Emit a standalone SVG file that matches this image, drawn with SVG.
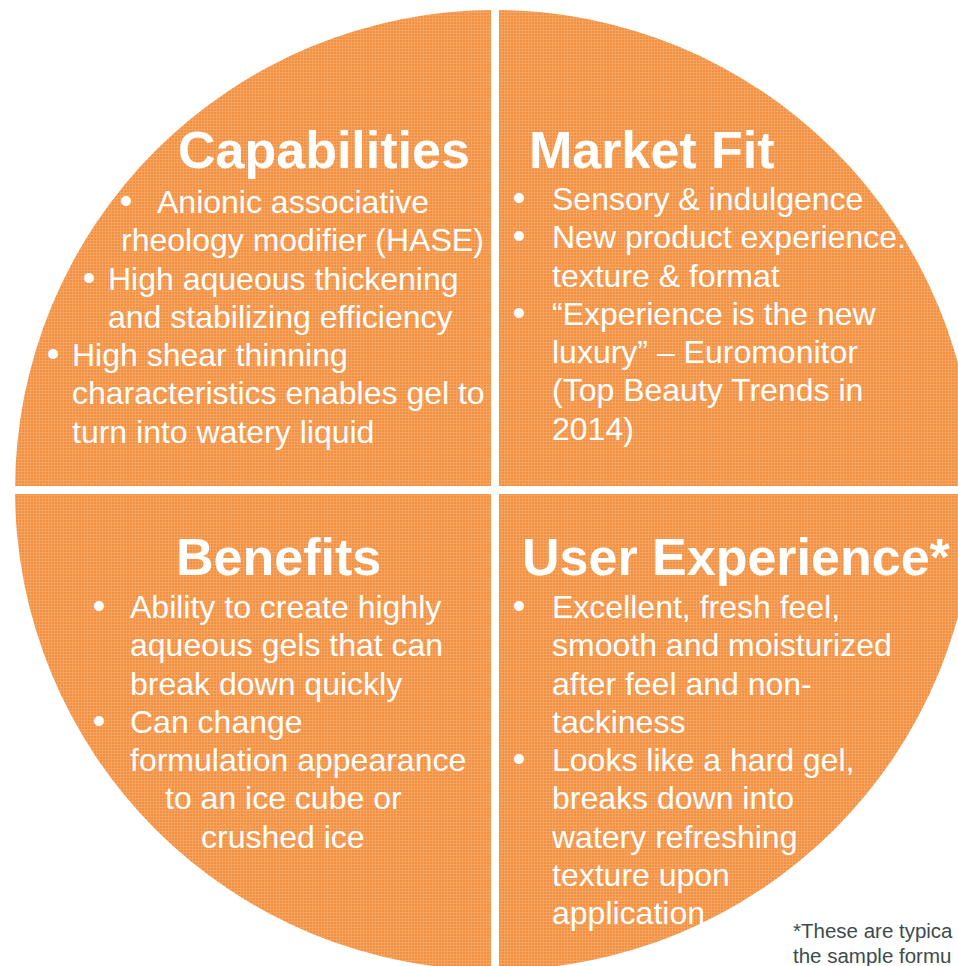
<svg xmlns="http://www.w3.org/2000/svg" width="958" height="966" viewBox="0 0 958 966">
<defs>
<pattern id="tex" width="3" height="3" patternUnits="userSpaceOnUse">
<rect width="3" height="3" fill="#F29040"/>
<rect x="0" y="0" width="3" height="1" fill="#F5A462"/>
<rect x="0" y="0" width="1" height="3" fill="#F5A462"/>
</pattern>
</defs>
<style>
.t{font-family:"Liberation Sans",Arial,sans-serif;fill:#ffffff;}
.h{font-size:52px;font-weight:bold;}
.b{font-size:32px;}
.m{text-anchor:middle;font-size:36px;}
.f{font-family:"Liberation Sans",Arial,sans-serif;font-size:20.5px;fill:#3d4a4d;}
</style>
<rect width="958" height="966" fill="#ffffff"/>
<circle cx="495" cy="490" r="480" fill="url(#tex)"/>
<g id="dividers">
<rect x="491" y="0" width="8" height="966" fill="#ffffff"/>
<rect x="0" y="486" width="958" height="8" fill="#ffffff"/>
</g>
<g id="capabilities" class="t">
<text class="t h" x="178" y="168">Capabilities</text>
<text class="t b m" x="126" y="213">•</text>
<text class="t b" x="157" y="213">Anionic associative</text>
<text class="t b" x="121" y="251.3">rheology modifier (HASE)</text>
<text class="t b m" x="89" y="289.5">•</text>
<text class="t b" x="108" y="289.5">High aqueous thickening</text>
<text class="t b" x="108" y="327.8">and stabilizing efficiency</text>
<text class="t b m" x="53" y="366">•</text>
<text class="t b" x="72" y="366">High shear thinning</text>
<text class="t b" x="72" y="404.3">characteristics enables gel to</text>
<text class="t b" x="72" y="442.5">turn into watery liquid</text>
</g>
<g id="market-fit" class="t">
<text class="t h" x="529" y="168">Market Fit</text>
<text class="t b m" x="519" y="210">•</text>
<text class="t b" x="552" y="210">Sensory &amp; indulgence</text>
<text class="t b m" x="519" y="248.3">•</text>
<text class="t b" x="552" y="248.3">New product experience:</text>
<text class="t b" x="552" y="286.5">texture &amp; format</text>
<text class="t b m" x="519" y="324.8">•</text>
<text class="t b" x="552" y="324.8">“Experience is the new</text>
<text class="t b" x="552" y="363">luxury” – Euromonitor</text>
<text class="t b" x="552" y="401.2">(Top Beauty Trends in</text>
<text class="t b" x="552" y="439.5">2014)</text>
</g>
<g id="benefits" class="t">
<text class="t h" x="176" y="575">Benefits</text>
<text class="t b m" x="99" y="618">•</text>
<text class="t b" x="130" y="618">Ability to create highly</text>
<text class="t b" x="130" y="656.3">aqueous gels that can</text>
<text class="t b" x="130" y="694.6">break down quickly</text>
<text class="t b m" x="99" y="733">•</text>
<text class="t b" x="130" y="733">Can change</text>
<text class="t b" x="130" y="771">formulation appearance</text>
<text class="t b" x="165" y="809.4">to an ice cube or</text>
<text class="t b" x="201" y="847.7">crushed ice</text>
</g>
<g id="user-experience" class="t">
<text class="t h" x="522" y="575">User Experience*</text>
<text class="t b m" x="519" y="618">•</text>
<text class="t b" x="552" y="618">Excellent, fresh feel,</text>
<text class="t b" x="552" y="656.3">smooth and moisturized</text>
<text class="t b" x="552" y="694.6">after feel and non-</text>
<text class="t b" x="552" y="733">tackiness</text>
<text class="t b m" x="519" y="771">•</text>
<text class="t b" x="552" y="771">Looks like a hard gel,</text>
<text class="t b" x="552" y="809.4">breaks down into</text>
<text class="t b" x="552" y="847.7">watery refreshing</text>
<text class="t b" x="552" y="886">texture upon</text>
<text class="t b" x="552" y="924.4">application</text>
</g>
<g id="footnote">
<text class="f" x="793" y="938">*These are typica</text>
<text class="f" x="793" y="963">the sample formu</text>
</g>
</svg>
